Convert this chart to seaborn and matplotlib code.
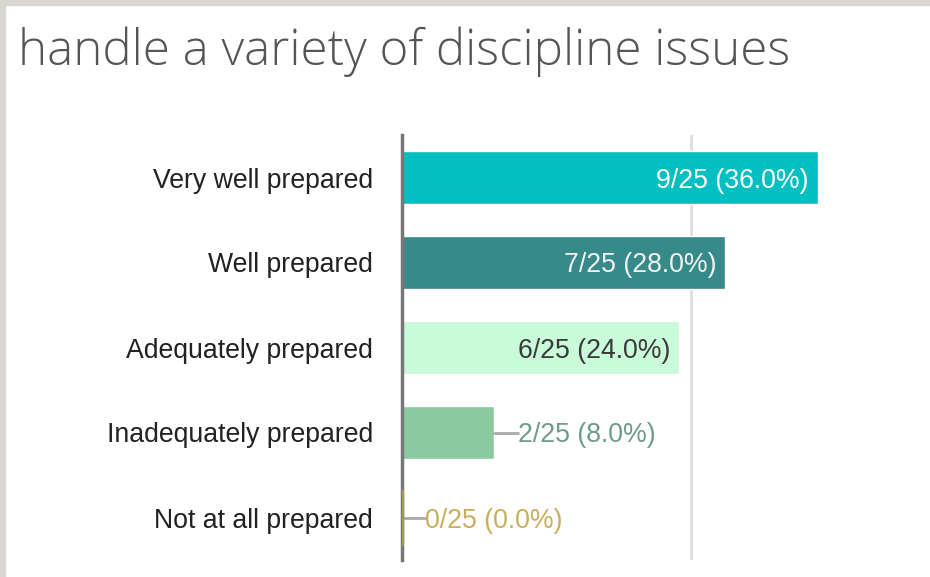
import numpy as np
import pandas as pd
import seaborn as sns
import matplotlib.pyplot as plt
from matplotlib.patches import Rectangle

# ----------------------------
# Data
# ----------------------------
title = "handle a variety of discipline issues"
categories = ["Very well prepared", "Well prepared", "Adequately prepared",
              "Inadequately prepared", "Not at all prepared"]
counts = [9, 7, 6, 2, 0]
total = 25
bar_colors = ["#02BFC1", "#368A89", "#C9FAD9", "#8BCA9E", "#A79B4E"]
label_colors = ["#FFFFFF", "#F2F2F2", "#3A3A3A", "#6E9C88", "#C9AE5E"]

percents = [100.0 * c / total for c in counts]
labels = [f"{c}/{total} ({p:.1f}%)" for c, p in zip(counts, percents)]
df = pd.DataFrame({"category": categories, "percent": percents})

# ----------------------------
# Plot
# ----------------------------
sns.set_theme(style="white")
plt.rcParams["font.family"] = ["Liberation Sans", "DejaVu Sans"]

fig = plt.figure(figsize=(9.3, 5.77), dpi=100)
ax = fig.add_axes([402 / 930, 1 - 560 / 577, 462 / 930, 425 / 577])

sns.barplot(data=df, x="percent", y="category", hue="category",
            palette=bar_colors, legend=False, width=0.62, ax=ax,
            saturation=1, orient="h")

ax.set_xlim(0, 40)
ax.set_ylim(4.5, -0.5)
ax.set_xticks([25])
ax.xaxis.grid(True, color="#DDDDDD", linewidth=2)
ax.set_axisbelow(True)
ax.tick_params(axis="x", length=0, labelbottom=False)
ax.tick_params(axis="y", length=0, pad=21, labelsize=19.2, labelcolor="#222222")
ax.set_xlabel("")
ax.set_ylabel("")
for s in ["top", "right", "bottom"]:
    ax.spines[s].set_visible(False)
ax.spines["left"].set_color("#777777")
ax.spines["left"].set_linewidth(2.5)
ax.spines["left"].set_zorder(5)

# zero-width bar shown as a thin coloured stub on the axis
ax.plot([0, 0], [4 - 0.31, 4 + 0.31], color=bar_colors[4], lw=2.5, zorder=6)

for i, (p, lab) in enumerate(zip(percents, labels)):
    if p >= 15:
        ax.text(p - 0.8, i, lab, ha="right", va="center_baseline", fontsize=19.2,
                color=label_colors[i])
    else:
        ax.plot([p, p + 2.0], [i, i], color="#AAAAAA", lw=2, zorder=4)
        ax.text(p + 2.0, i, lab, ha="left", va="center_baseline", fontsize=19.2,
                color=label_colors[i])

fig.text(18 / 930, 1 - 52 / 577, title, ha="left", va="center",
         fontsize=35.5, color="#555555", family=["Open Sans", "DejaVu Sans"],
         fontweight="light")

# light grey frame along top and left edges
fig.patches.append(Rectangle((0, 1 - 5 / 577), 1, 5 / 577, transform=fig.transFigure,
                             color="#D9D6D1", zorder=0))
fig.patches.append(Rectangle((0, 0), 5 / 930, 1, transform=fig.transFigure,
                             color="#D9D6D1", zorder=0))

fig.savefig("out.png", dpi=100)
